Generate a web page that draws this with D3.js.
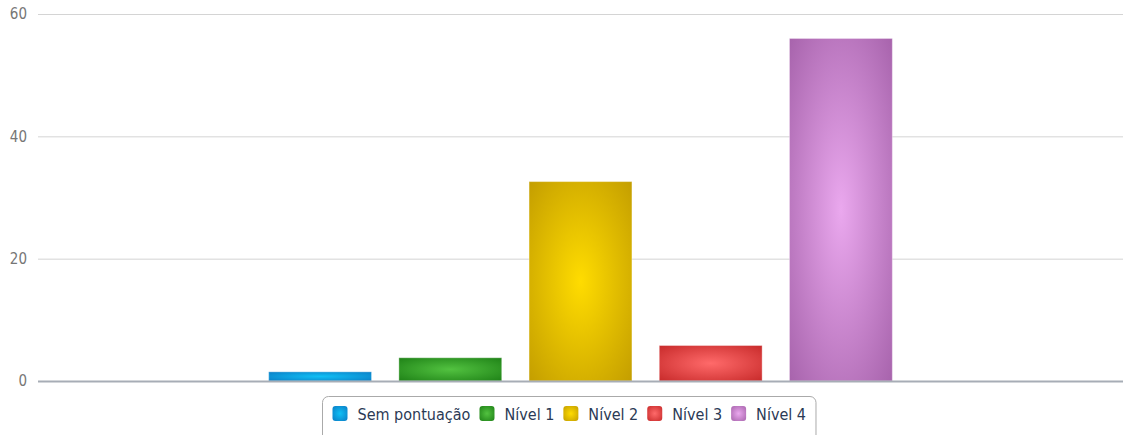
<!DOCTYPE html>
<html>
<head>
<meta charset="utf-8">
<script src="https://cdn.jsdelivr.net/npm/d3@7"></script>
<style>
  body { margin: 0; background: #fff; }
  svg { display: block; }
</style>
</head>
<body>
<div id="container"></div>
<script>
/**
 * CONSTANTS AND DATA
 * */
const width = 1123,
  height = 435,
  margin = { top: 14, bottom: 54, left: 38, right: 0 };

const series = ["Sem pontuação", "Nível 1", "Nível 2", "Nível 3", "Nível 4"];
const values = [1.5, 3.8, 32.6, 5.8, 56];
const yTicks = [0, 20, 40, 60];
// [edge, center] colours for each bar
const edgeColors = ["#0a78c2", "#1b7d14", "#c09a00", "#c42626", "#a35fa8"];
const centerColors = ["#10c0f5", "#52c240", "#ffdc00", "#ff6a6a", "#eaa8ee"];

const font = "'DejaVu Sans Condensed', 'DejaVu Sans', sans-serif";

const svg = d3.select("#container")
  .append("svg")
  .attr("width", width)
  .attr("height", height);

const defs = svg.append("defs");
series.forEach((s, i) => {
  const g = defs.append("radialGradient")
    .attr("id", "grad" + i)
    .attr("cx", "50%").attr("cy", "50%").attr("r", "75%");
  g.append("stop").attr("offset", "0%").attr("stop-color", centerColors[i]);
  g.append("stop").attr("offset", "100%").attr("stop-color", edgeColors[i]);
});

/**
 * SCALES
 * */
const y = d3.scaleLinear()
  .domain([0, 60])
  .range([height - margin.bottom, margin.top]);

const plotW = width - margin.left - margin.right;
const x = d3.scaleBand()
  .domain(series)
  .range([margin.left + plotW * 0.2, width - margin.right - plotW * 0.2])
  .paddingInner(0.21)
  .paddingOuter(0.105);

/**
 * GRID + AXIS
 * */
const yAxis = d3.axisLeft(y)
  .tickValues(yTicks)
  .tickSize(-plotW)
  .tickFormat(d3.format("d"));

const gy = svg.append("g")
  .attr("transform", `translate(${margin.left},0)`)
  .call(yAxis);
gy.select(".domain").remove();
gy.selectAll(".tick line").attr("stroke", "#d4d4d4");
gy.selectAll(".tick text")
  .attr("x", -11)
  .attr("fill", "#767676")
  .style("font-family", font)
  .style("font-stretch", "condensed")
  .style("font-size", "15px");

/**
 * BARS
 * */
svg.append("g")
  .selectAll("rect")
  .data(values)
  .join("rect")
  .attr("x", (d, i) => x(series[i]))
  .attr("y", d => y(d))
  .attr("width", x.bandwidth())
  .attr("height", d => y(0) - y(d))
  .attr("fill", (d, i) => `url(#grad${i})`)
  .attr("stroke", "rgba(255,255,255,0.35)")
  .attr("stroke-width", 1);

// x axis line
svg.append("line")
  .attr("x1", margin.left).attr("x2", width)
  .attr("y1", y(0) + 0.5).attr("y2", y(0) + 0.5)
  .attr("stroke", "#a7adb6")
  .attr("stroke-width", 2);

/**
 * LEGEND
 * */
const legend = svg.append("g");
const items = legend.selectAll("g.item")
  .data(series)
  .join("g")
  .attr("class", "item");

items.append("rect")
  .attr("width", 15).attr("height", 15)
  .attr("rx", 3)
  .attr("fill", (d, i) => `url(#grad${i})`);

items.append("text")
  .attr("x", 25)
  .attr("y", 14)
  .attr("fill", "#2b3a55")
  .style("font-family", font)
  .style("font-stretch", "condensed")
  .style("font-size", "16px")
  .text(d => d);

// lay items out one after another
let cursor = 0;
const gap = 9;
items.each(function () {
  const w = this.getBBox().width;
  d3.select(this).attr("transform", `translate(${cursor},0)`);
  cursor += w + gap;
});
const legendW = cursor - gap;
const legendX = Math.round(569 - legendW / 2 - 10) + 0.5;
legend.attr("transform", `translate(${legendX + 10},406)`);

svg.insert("rect", "g")
  .attr("x", legendX)
  .attr("y", 396.5)
  .attr("width", legendW + 20)
  .attr("height", 50)
  .attr("rx", 6)
  .attr("fill", "#fff")
  .attr("stroke", "#aaaaaa")
  .attr("stroke-width", 1);
</script>
</body>
</html>
